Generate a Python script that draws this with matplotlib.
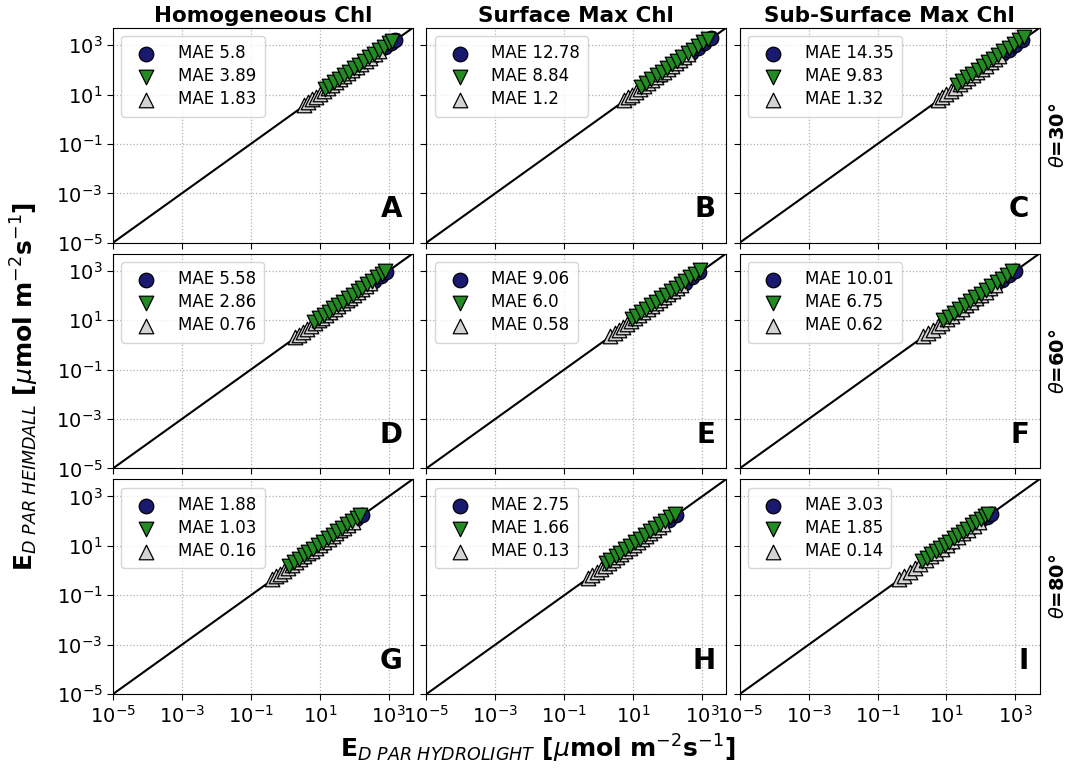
import matplotlib
matplotlib.use("Agg")
import matplotlib.pyplot as plt
from matplotlib.ticker import FixedLocator, LogFormatterSciNotation, NullLocator

col_titles = ["Homogeneous Chl", "Surface Max Chl", "Sub-Surface Max Chl"]
row_labels = [r"$\theta$=30°", r"$\theta$=60°", r"$\theta$=80°"]
panel_letters = ["A", "B", "C", "D", "E", "F", "G", "H", "I"]
tick_values = [1e-5, 1e-3, 1e-1, 1e1, 1e3]
axis_limits = [1e-5, 5e3]

mae_blue = [5.8, 12.78, 14.35, 5.58, 9.06, 10.01, 1.88, 2.75, 3.03]
mae_green = [3.89, 8.84, 9.83, 2.86, 6.0, 6.75, 1.03, 1.66, 1.85]
mae_grey = [1.83, 1.2, 1.32, 0.76, 0.58, 0.62, 0.16, 0.13, 0.14]

# Panel A
a_blue_x = [30, 45, 70, 105, 160, 240, 360, 540, 800, 1200, 1550]
a_blue_y = [32, 48, 74, 110, 168, 250, 375, 560, 830, 1240, 1600]
a_green_x = [14, 19, 26, 36, 50, 70, 98, 135, 190, 265, 370, 520, 720, 1000, 1250]
a_green_y = [17, 23, 32, 44, 61, 85, 118, 163, 228, 318, 442, 620, 860, 1190, 1480]
a_grey_x = [3.6, 4.6, 6.0, 7.8, 10, 13, 17, 22, 29, 38, 50, 66, 88, 118, 160, 215, 290, 390, 520]
a_grey_y = [3.8, 4.9, 6.4, 8.3, 10.7, 13.9, 18.2, 23.6, 31, 41, 54, 71, 95, 127, 172, 232, 312, 420, 560]
# Panel B
b_blue_x = [35, 55, 85, 130, 200, 310, 480, 740, 1150, 1800]
b_blue_y = [37, 58, 89, 136, 210, 325, 500, 770, 1190, 1850]
b_green_x = [17, 24, 34, 48, 68, 96, 135, 190, 270, 380, 540, 760, 1080, 1500]
b_green_y = [21, 30, 42, 59, 84, 118, 166, 233, 330, 465, 660, 925, 1310, 1800]
b_grey_x = [5.5, 7.2, 9.4, 12.3, 16, 21, 27.5, 36, 47, 61, 80, 104, 136, 178, 232, 300, 395]
b_grey_y = [5.8, 7.6, 10, 13, 17, 22.3, 29, 38, 50, 65, 85, 111, 145, 190, 248, 320, 420]
# Panel C
c_blue_x = [40, 65, 100, 160, 250, 400, 630, 1000, 1600]
c_blue_y = [42, 68, 105, 168, 262, 420, 660, 1040, 1660]
c_green_x = [20, 28, 40, 56, 80, 112, 160, 225, 320, 450, 640, 900, 1280, 1750]
c_green_y = [25, 35, 50, 70, 99, 139, 198, 278, 395, 555, 790, 1110, 1570, 2100]
c_grey_x = [5.5, 7.5, 10, 13.5, 18, 24, 32, 43, 58, 78, 105, 140, 190, 255, 340]
c_grey_y = [5.8, 7.9, 10.6, 14.3, 19, 25.5, 34, 45.5, 61, 82, 111, 148, 200, 270, 360]
# Panel D
d_blue_x = [15, 24, 38, 60, 95, 150, 240, 380, 600, 850]
d_blue_y = [16, 25, 40, 63, 99, 157, 250, 395, 625, 880]
d_green_x = [7, 9.6, 13, 18, 25, 34, 47, 65, 90, 125, 170, 235, 325, 450, 620, 800]
d_green_y = [8.6, 11.8, 16, 22, 30.5, 41.5, 57, 79, 109, 151, 205, 283, 390, 540, 740, 950]
d_grey_x = [1.9, 2.5, 3.2, 4.2, 5.5, 7.1, 9.3, 12, 15.7, 20.5, 27, 35, 46, 60, 78, 102, 133, 174, 226, 295]
d_grey_y = [2.0, 2.6, 3.4, 4.4, 5.8, 7.5, 9.8, 12.7, 16.6, 21.7, 28.5, 37, 48.6, 63, 82, 108, 140, 183, 238, 310]
# Panel E
e_blue_x = [18, 30, 48, 78, 125, 200, 320, 520, 830]
e_blue_y = [19, 31, 50, 81, 130, 208, 333, 540, 860]
e_green_x = [9, 12.5, 17, 24, 33, 46, 64, 89, 124, 172, 240, 330, 460, 640, 880]
e_green_y = [11, 15.2, 21, 29, 40, 56, 78, 108, 150, 208, 290, 400, 555, 770, 1050]
e_grey_x = [2.2, 2.9, 3.8, 5, 6.6, 8.7, 11.5, 15.2, 20, 26.5, 35, 46, 61, 80, 106, 140, 185, 245]
e_grey_y = [2.3, 3.0, 4.0, 5.3, 7.0, 9.2, 12.2, 16.1, 21.2, 28, 37, 48.7, 64.5, 85, 112, 148, 196, 260]
# Panel F
f_blue_x = [22, 36, 58, 95, 155, 250, 400, 650, 950]
f_blue_y = [23, 38, 61, 99, 162, 260, 415, 675, 985]
f_green_x = [8, 11.5, 16.5, 23.5, 34, 48, 69, 98, 140, 200, 285, 405, 580, 820]
f_green_y = [9.8, 14, 20, 28.5, 41, 58, 83, 118, 168, 240, 342, 485, 695, 980]
f_grey_x = [2.1, 2.9, 4, 5.5, 7.6, 10.5, 14.5, 20, 27.5, 38, 52, 72, 99, 136, 188, 260]
f_grey_y = [2.2, 3.0, 4.2, 5.8, 8.0, 11.1, 15.3, 21.1, 29, 40, 55, 76, 104, 143, 198, 274]
# Panel G
g_blue_x = [3.5, 5.5, 8.5, 13, 20, 31, 48, 75, 115, 165]
g_blue_y = [3.7, 5.8, 8.9, 13.6, 21, 32.5, 50, 78, 120, 172]
g_green_x = [1.3, 1.8, 2.5, 3.4, 4.7, 6.5, 9, 12.4, 17, 23.5, 32.5, 45, 62, 85, 118, 150]
g_green_y = [1.6, 2.2, 3.0, 4.1, 5.7, 7.8, 10.8, 14.9, 20.4, 28, 39, 54, 74, 102, 141, 180]
g_grey_x = [0.42, 0.55, 0.72, 0.94, 1.23, 1.6, 2.1, 2.75, 3.6, 4.7, 6.1, 8, 10.5, 13.7, 18, 23.5, 30.5, 40, 52, 68, 90]
g_grey_y = [0.44, 0.58, 0.76, 0.99, 1.3, 1.7, 2.2, 2.9, 3.8, 5.0, 6.5, 8.5, 11.1, 14.5, 19, 24.8, 32, 42, 55, 72, 95]
# Panel H
h_blue_x = [4, 6.5, 10.5, 17, 27, 44, 70, 112, 175]
h_blue_y = [4.2, 6.8, 11, 17.8, 28.3, 46, 73, 117, 182]
h_green_x = [1.6, 2.2, 3.1, 4.3, 6, 8.4, 11.7, 16.3, 22.7, 31.6, 44, 61, 85, 118, 165]
h_green_y = [1.95, 2.7, 3.8, 5.2, 7.3, 10.2, 14.2, 19.8, 27.6, 38.4, 53.5, 74, 103, 143, 200]
h_grey_x = [0.5, 0.66, 0.87, 1.15, 1.5, 2, 2.6, 3.45, 4.55, 6, 7.9, 10.4, 13.7, 18, 23.8, 31.4, 41.4, 54.6, 72]
h_grey_y = [0.52, 0.69, 0.91, 1.2, 1.57, 2.1, 2.72, 3.6, 4.75, 6.3, 8.3, 10.9, 14.3, 18.8, 24.9, 32.8, 43.3, 57, 75]
# Panel I
i_blue_x = [5, 8, 13, 21, 34, 55, 90, 145, 190]
i_blue_y = [5.2, 8.4, 13.6, 22, 35.5, 57.5, 94, 151, 198]
i_green_x = [2, 2.7, 3.6, 4.9, 6.6, 8.9, 12, 16.2, 21.9, 29.5, 40, 54, 73, 98, 132, 165]
i_green_y = [2.5, 3.35, 4.5, 6.1, 8.2, 11, 14.9, 20.1, 27.2, 36.6, 49.6, 67, 90.5, 121, 163, 203]
i_grey_x = [0.42, 0.6, 0.86, 1.23, 1.75, 2.5, 3.6, 5.1, 7.3, 10.4, 14.9, 21.3, 30.4, 43.5, 62, 88]
i_grey_y = [0.44, 0.63, 0.9, 1.29, 1.84, 2.63, 3.78, 5.35, 7.7, 10.9, 15.6, 22.4, 31.9, 45.7, 65, 92]

blue_x = [a_blue_x, b_blue_x, c_blue_x, d_blue_x, e_blue_x, f_blue_x, g_blue_x, h_blue_x, i_blue_x]
blue_y = [a_blue_y, b_blue_y, c_blue_y, d_blue_y, e_blue_y, f_blue_y, g_blue_y, h_blue_y, i_blue_y]
green_x = [a_green_x, b_green_x, c_green_x, d_green_x, e_green_x, f_green_x, g_green_x, h_green_x, i_green_x]
green_y = [a_green_y, b_green_y, c_green_y, d_green_y, e_green_y, f_green_y, g_green_y, h_green_y, i_green_y]
grey_x = [a_grey_x, b_grey_x, c_grey_x, d_grey_x, e_grey_x, f_grey_x, g_grey_x, h_grey_x, i_grey_x]
grey_y = [a_grey_y, b_grey_y, c_grey_y, d_grey_y, e_grey_y, f_grey_y, g_grey_y, h_grey_y, i_grey_y]

fig, axes = plt.subplots(3, 3, figsize=(10.75, 7.73), dpi=100, sharex=True, sharey=True)
fig.subplots_adjust(left=0.105, right=0.967, top=0.964, bottom=0.102, wspace=0.045, hspace=0.05)

for k, ax in enumerate(axes.flat):
    r, c = divmod(k, 3)
    ax.set_xscale("log")
    ax.set_yscale("log")
    ax.set_xlim(axis_limits)
    ax.set_ylim(axis_limits)
    ax.grid(True, which="major", linestyle=":", color="#b0b0b0", linewidth=0.9)
    ax.set_axisbelow(True)
    ax.axline((axis_limits[0], axis_limits[0]), (1, 1), color="black", linewidth=1.5, zorder=1)
    ax.scatter(blue_x[k], blue_y[k], marker="o", s=110, color="#191970", edgecolor="black",
               linewidth=0.9, label=f"MAE {mae_blue[k]}", zorder=2)
    ax.scatter(green_x[k], green_y[k], marker="v", s=110, color="#228B22", edgecolor="black",
               linewidth=0.9, label=f"MAE {mae_green[k]}", zorder=4)
    ax.scatter(grey_x[k], grey_y[k], marker="^", s=110, color="#d3d3d3", edgecolor="black",
               linewidth=0.9, label=f"MAE {mae_grey[k]}", zorder=3)
    ax.legend(loc="upper left", fontsize=12, handletextpad=0.9, borderpad=0.5,
              labelspacing=0.3, framealpha=0.8)
    ax.xaxis.set_major_locator(FixedLocator(tick_values))
    ax.yaxis.set_major_locator(FixedLocator(tick_values))
    ax.xaxis.set_major_formatter(LogFormatterSciNotation())
    ax.yaxis.set_major_formatter(LogFormatterSciNotation())
    ax.xaxis.set_minor_locator(NullLocator())
    ax.yaxis.set_minor_locator(NullLocator())
    ax.tick_params(labelsize=14, length=4)
    ax.text(0.965, 0.09, panel_letters[k], transform=ax.transAxes, ha="right", va="bottom",
            fontsize=20, fontweight="bold")
    if r == 0:
        ax.set_title(col_titles[c], fontsize=15.5, fontweight="bold", pad=4)
    if c == 2:
        ax.text(1.03, 0.5, row_labels[r], transform=ax.transAxes, rotation=90,
                ha="left", va="center", fontsize=14, fontweight="bold")

fig.supxlabel(r"E$_{D\ PAR\ HYDROLIGHT}$ [$\mu$mol m$^{-2}$s$^{-1}$]", fontsize=18,
              fontweight="bold", y=0.01)
fig.supylabel(r"E$_{D\ PAR\ HEIMDALL}$ [$\mu$mol m$^{-2}$s$^{-1}$]", fontsize=18,
              fontweight="bold", x=0.008)

fig.savefig("out.png", dpi=100)
